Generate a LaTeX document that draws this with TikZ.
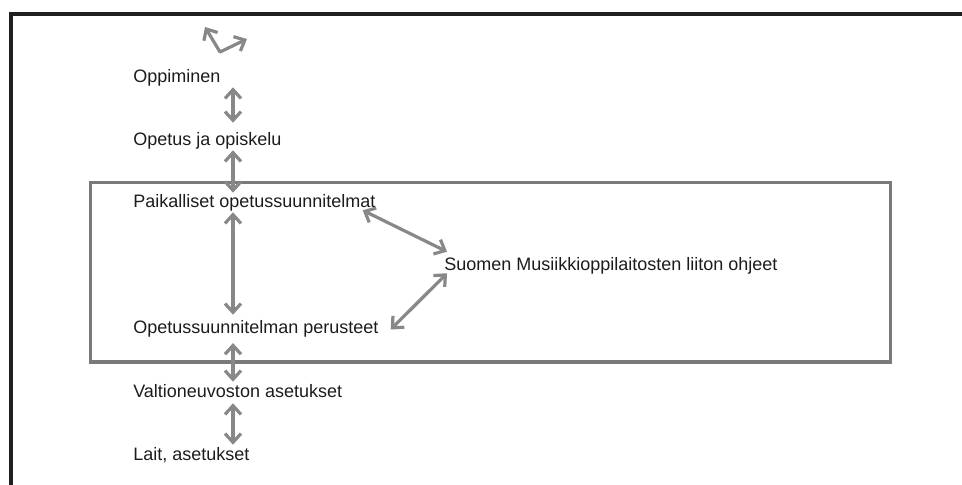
\documentclass[tikz,border=0pt]{standalone}
\usepackage{fontspec}
\setmainfont{Liberation Sans}
\usetikzlibrary{arrows.meta, positioning}
\definecolor{linkgray}{HTML}{888888}
\definecolor{boxgray}{HTML}{7A7A7A}
\definecolor{framecol}{HTML}{231F20}
\definecolor{txtcol}{HTML}{1C1C1C}
\tikzset{
  lbl/.style={anchor=base west, inner sep=0pt, text=txtcol, text height=0.325cm, text depth=0.1cm,
    font=\fontsize{12.8pt}{15pt}\selectfont},
  link/.style={linkgray, line width=0.08cm,
    {Straight Barb[length=0.22cm, width=0.4cm]}-{Straight Barb[length=0.22cm, width=0.4cm]}}
}
\begin{document}
\begin{tikzpicture}[x=0.025cm, y=-0.025cm]
\useasboundingbox (0,0) rectangle (962,485);
\draw[framecol, line width=0.1cm] (962,14) -- (11,14) -- (11,485);
\draw[boxgray, line width=0.075cm] (90,183) rectangle (890,362);
\node[lbl] (opp) at (133,83) {Oppiminen};
\node[lbl] (ope) at (133,146) {Opetus ja opiskelu};
\node[lbl] (paik) at (133,208) {Paikalliset opetussuunnitelmat};
\node[lbl] (ops) at (133,334) {Opetussuunnitelman perusteet};
\node[lbl] (suo) at (444,271) {Suomen Musiikkioppilaitosten liiton ohjeet};
\node[lbl] (valt) at (133,397) {Valtioneuvoston asetukset};
\node[lbl] (lait) at (133,460) {Lait, asetukset};
\coordinate (xa) at (233,0);
\coordinate (v1) at (205,27);
\coordinate (v2) at (220,52);
\coordinate (v3) at (247,39);
\draw[link, line join=round] (v1) -- (v2) -- (v3);
\draw[link, shorten >=0.25cm] (opp.south -| xa) -- (ope.north -| xa);
\draw[link, shorten >=0.05cm] (ope.south -| xa) -- (paik.north -| xa);
\draw[link, shorten >=0.15cm] (paik.south -| xa) -- (ops.north -| xa);
\draw[link, shorten <=0.12cm, shorten >=0.05cm] (ops.south -| xa) -- (valt.north -| xa);
\draw[link, shorten <=0.05cm, shorten >=0.05cm] (valt.south -| xa) -- (lait.north -| xa);
\draw[link] ([xshift=-0.325cm, yshift=0.05cm]paik.south east) -- ([xshift=0.075cm, yshift=0.15cm]suo.north west);
\draw[link] ([xshift=0.075cm, yshift=0.05cm]suo.south west) -- ([xshift=0.3cm]ops.east);
\end{tikzpicture}
\end{document}
